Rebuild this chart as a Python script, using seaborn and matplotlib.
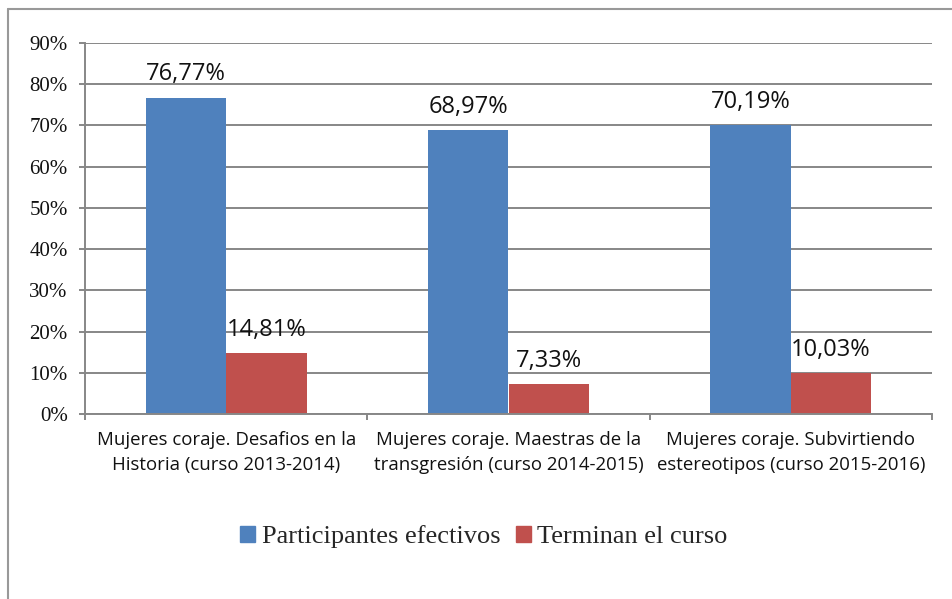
import numpy as np
import pandas as pd
import matplotlib
matplotlib.use('Agg')
import matplotlib.pyplot as plt
from matplotlib.lines import Line2D
from matplotlib.ticker import FuncFormatter
import seaborn as sns

categories = ['Mujeres coraje. Desafios en la\nHistoria (curso 2013-2014)',
              'Mujeres coraje. Maestras de la\ntransgresión (curso 2014-2015)',
              'Mujeres coraje. Subvirtiendo\nestereotipos (curso 2015-2016)']
participantes = [76.77, 68.97, 70.19]
terminan = [14.81, 7.33, 10.03]
series_names = ['Participantes efectivos', 'Terminan el curso']
colors = ['#4F81BD', '#C0504D']

df = pd.DataFrame({
    'curso': categories * 2,
    'serie': [series_names[0]] * 3 + [series_names[1]] * 3,
    'valor': participantes + terminan,
})

sns.set_style('white')
grid_col = '#878787'

fig = plt.figure(figsize=(9.52, 5.99), dpi=100)
ax = fig.add_axes([85 / 952, 1 - 414 / 599, (932 - 85) / 952, (414 - 43) / 599])

sns.barplot(data=df, x='curso', y='valor', hue='serie', hue_order=series_names,
            palette=colors, width=0.57, saturation=1, ax=ax, legend=True)

for bar in ax.patches:
    bar.set_edgecolor('none')

# value labels
for cont in ax.containers:
    labels = [f'{v:.2f}'.replace('.', ',') + '%' for v in cont.datavalues]
    ax.bar_label(cont, labels=labels, padding=8, fontsize=17,
                 family='Open Sans', color='#111111')

ax.set_ylim(0, 90)
ax.set_xlim(-0.5, 2.5)
ax.set_yticks(np.arange(0, 91, 10))
ax.yaxis.set_major_formatter(FuncFormatter(lambda v, p: f'{v:.0f}%'))
ax.yaxis.grid(True, color=grid_col, linewidth=1.4)
ax.set_axisbelow(True)
ax.set_xlabel('')
ax.set_ylabel('')

for s in ['top', 'right']:
    ax.spines[s].set_visible(False)
for s in ['left', 'bottom']:
    ax.spines[s].set_color(grid_col)
    ax.spines[s].set_linewidth(1.4)

ax.tick_params(axis='y', which='major', left=True, length=4.5, width=1.4,
               color=grid_col, labelsize=15, pad=8, labelcolor='#111111')
for lab in ax.get_yticklabels():
    lab.set_family('Liberation Serif')

ax.set_xticks([0, 1, 2])
ax.set_xticklabels(categories, fontsize=13.4, family='Open Sans', color='#111111',
                   linespacing=1.5)
ax.tick_params(axis='x', which='major', length=0, pad=12)
ax.set_xticks([-0.5, 0.5, 1.5, 2.5], minor=True)
ax.tick_params(axis='x', which='minor', bottom=True, length=4, width=1.4, color=grid_col)

ax.legend_.remove()
handles = [plt.Rectangle((0, 0), 1, 1, color=c) for c in colors]
fig.legend(handles, series_names, loc='center', bbox_to_anchor=(484 / 952, 1 - 537 / 599),
           ncol=2, frameon=False, prop={'family': 'Liberation Serif', 'size': 19},
           handlelength=0.55, handleheight=0.55, handletextpad=0.25, columnspacing=0.6)

# outer frame (left and top edges)
fig.add_artist(Line2D([8 / 952, 8 / 952], [0, 1 - 9 / 599], transform=fig.transFigure,
                      color='#999999', linewidth=1.5))
fig.add_artist(Line2D([8 / 952, 1], [1 - 9 / 599, 1 - 9 / 599], transform=fig.transFigure,
                      color='#999999', linewidth=1.5))

fig.savefig('out.png', dpi=100)
